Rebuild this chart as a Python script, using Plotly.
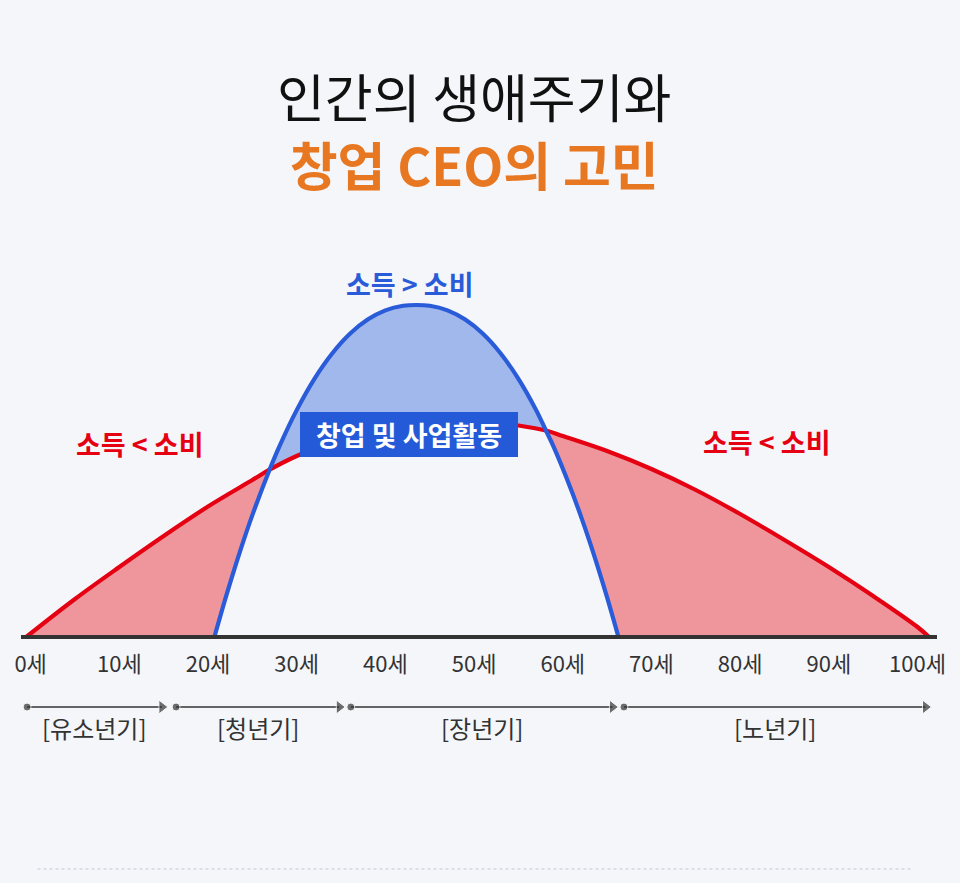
import plotly.graph_objects as go

# ---------------- data ----------------
# age axis (세) and relative level above the baseline
tick_ages = [0, 10, 20, 30, 40, 50, 60, 70, 80, 90, 100]
tick_text = ["0세", "10세", "20세", "30세", "40세", "50세", "60세", "70세", "80세", "90세", "100세"]

# red curve: consumption (소비)
red_age = [-0.5, 5, 10, 15, 20, 25, 26.94, 30, 35, 40, 45, 50, 55, 58.1, 60, 65, 70, 75, 80, 85, 90, 95, 100, 101.3]
red_h = [0, 38, 70, 101, 130.5, 157, 167.3, 181, 198.5, 209.5, 216, 217, 211.5, 206.5, 201, 186, 168, 147, 123, 97, 70, 41, 10, 0]

# blue curve: income (소득)
blue_age = [20.72, 22, 23, 24, 25, 26.94, 28, 30, 32, 34, 36, 38, 40, 42, 43.5,
            45, 47, 49, 51, 53, 55, 57, 58.1, 59, 61, 62, 63, 64, 65, 66.28]
blue_h = [0, 39.6, 68.7, 96.2, 121.9, 167.3, 189.7, 226.9, 258.2, 283.5, 303.2, 317.4, 326.6, 331.2, 332,
          331.2, 326.6, 317.4, 303.2, 283.5, 258.2, 226.9, 206.5, 189.7, 146.1, 121.9, 96.2, 68.7, 39.6, 0]

# ages where the two curves cross
cross_ages = [26.94, 58.1]

# life periods
period_labels = ["[유소년기]", "[청년기]", "[장년기]", "[노년기]"]
period_start = [-0.4, 16.4, 36.1, 66.9]
period_end = [14.8, 34.8, 65.6, 100.9]

# ---------------- styles ----------------
BG = "#F4F6FA"
RED = "#E50012"
BLUE = "#2A5BD8"
PINK = "#EF959C"
LBLUE = "#A1B8EC"
DARK = "#333333"
ORANGE = "#E87722"
FONT = "Noto Sans CJK KR"

W, H = 960, 883
BASE_PX = 637          # pixel row of the baseline
PX0, PXS = 25, 9       # pixel of age 0, pixels per year


def seg(ages, hs, lo, hi):
    return [(a, h) for a, h in zip(ages, hs) if lo <= a <= hi]


xl, xr = cross_ages
left_poly = seg(red_age, red_h, -1e9, xl) + seg(blue_age, blue_h, -1e9, xl)[::-1]
right_poly = seg(red_age, red_h, xr, 1e9) + seg(blue_age, blue_h, xr, 1e9)[::-1]
mid_poly = seg(blue_age, blue_h, xl, xr) + seg(red_age, red_h, xl, xr)[::-1]

fig = go.Figure()
for poly, col in [(left_poly, PINK), (right_poly, PINK), (mid_poly, LBLUE)]:
    fig.add_trace(go.Scatter(
        x=[p[0] for p in poly], y=[p[1] for p in poly],
        mode="lines", fill="toself", fillcolor=col,
        line=dict(width=0), hoverinfo="skip", showlegend=False))

fig.add_trace(go.Scatter(x=red_age, y=red_h, mode="lines",
                         line=dict(color=RED, width=4.2, shape="spline"),
                         hoverinfo="skip", showlegend=False))
fig.add_trace(go.Scatter(x=blue_age, y=blue_h, mode="lines",
                         line=dict(color=BLUE, width=4.2, shape="spline"),
                         hoverinfo="skip", showlegend=False))

# period arrows
ARROW_H = BASE_PX - 707
LABEL_H = BASE_PX - 727
for s, e, lab in zip(period_start, period_end, period_labels):
    fig.add_trace(go.Scatter(
        x=[s, e], y=[ARROW_H, ARROW_H], mode="lines+markers",
        line=dict(color=DARK, width=1.5),
        marker=dict(symbol=["circle", "triangle-right"], size=[8, 12], color=DARK),
        hoverinfo="skip", showlegend=False))
    fig.add_annotation(x=(s + e) / 2, y=LABEL_H, xref="x", yref="y", text=lab,
                       showarrow=False, font=dict(family=FONT, size=24, color=DARK))


def to_age(px):
    return (px - PX0) / PXS


def to_h(py):
    return BASE_PX - py


# title (two lines in one text block)
fig.add_annotation(x=475 / W, y=to_h(129), xref="paper", yref="y",
                   text=("인간의 생애주기와<br>"
                         f"<span style='color:{ORANGE}'><b>창업 CEO의 고민</b></span>"),
                   showarrow=False, align="center",
                   font=dict(family=FONT, size=52, color="#111111"))

# curve labels
fig.add_annotation(x=to_age(135.5), y=to_h(443), xref="x", yref="y", text="<b>소득 &lt; 소비</b>",
                   showarrow=False, font=dict(family=FONT, size=27, color=RED))
fig.add_annotation(x=to_age(772.5), y=to_h(441), xref="x", yref="y", text="<b>소득 &lt; 소비</b>",
                   showarrow=False, font=dict(family=FONT, size=27, color=RED))
fig.add_annotation(x=to_age(409.5), y=to_h(283), xref="x", yref="y", text="<b>소득 &gt; 소비</b>",
                   showarrow=False, font=dict(family=FONT, size=27, color=BLUE))
fig.add_annotation(x=to_age(409), y=to_h(434.5), xref="x", yref="y", text="<b>창업 및 사업활동</b>",
                   showarrow=False, bgcolor="#2459D8", width=218, height=45,
                   borderpad=0, borderwidth=0,
                   font=dict(family=FONT, size=27, color="white"))

# dotted footer line
fig.add_shape(type="line", xref="paper", yref="y", x0=32 / W, x1=920 / W,
              y0=to_h(869), y1=to_h(869), line=dict(color="#C5CAD3", width=1, dash="dot"))

fig.update_layout(
    width=W, height=H, margin=dict(l=0, r=0, t=0, b=0),
    paper_bgcolor=BG, plot_bgcolor=BG,
    xaxis=dict(domain=[15 / W, 945 / W], range=[to_age(15), to_age(945)],
               anchor="free", position=(H - BASE_PX) / H,
               showgrid=False, zeroline=False, showline=True, linecolor=DARK, linewidth=4,
               tickvals=tick_ages, ticktext=tick_text, ticks="", ticklabelstandoff=7,
               tickfont=dict(family=FONT, size=22, color=DARK), fixedrange=True),
    yaxis=dict(domain=[0, 1], range=[BASE_PX - H, BASE_PX], visible=False, fixedrange=True),
    font=dict(family=FONT),
)

fig.write_html("out.html", config={"displayModeBar": False})
